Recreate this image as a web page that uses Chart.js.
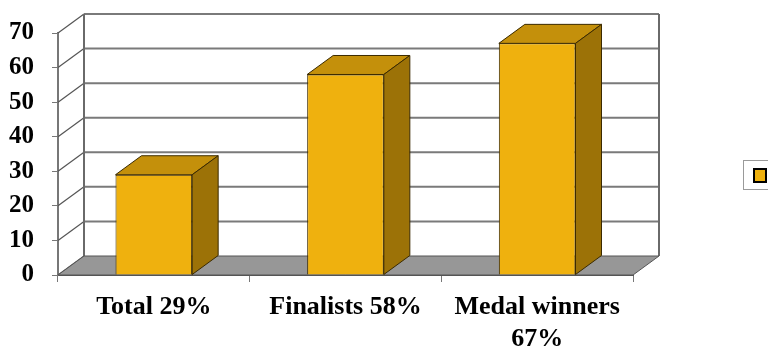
<!DOCTYPE html>
<html>
<head>
<meta charset="utf-8">
<script src="https://cdn.jsdelivr.net/npm/chart.js@4"></script>
<style>
  html, body { margin: 0; padding: 0; background: #fff; }
  #wrap { width: 768px; height: 346px; }
</style>
</head>
<body>
<div id="wrap"><canvas id="myChart" width="768" height="346"></canvas></div>
<script>
// chart data
var categories = [['Total 29%'], ['Finalists 58%'], ['Medal winners', '67%']];
var values = [29, 58, 67];
var yMin = 0;
var yMax = 70;
var yStep = 10;

// 3d depth of the walls and bars (px)
var depthX = 26;
var depthY = -19;

var frontColor = '#EFB10E';
var topColor = '#C4900B';
var sideColor = '#9C7207';
var edgeColor = '#3b2a00';

var fake3d = {
    id: 'fake3d',
    beforeDatasetsDraw: function (chart) {
        var c = chart.ctx, a = chart.chartArea, y = chart.scales.y;
        var L = a.left, R = a.right, B = a.bottom, T = a.top;
        c.save();
        // back wall
        c.fillStyle = '#fff';
        c.fillRect(L + depthX, T + depthY, R - L, B - T);
        // back wall grid lines + left wall diagonals
        for (var v = yMin; v <= yMax; v += yStep) {
            var py = y.getPixelForValue(v);
            c.strokeStyle = '#7a7a7a';
            c.lineWidth = 2;
            if (v > yMin) {
                c.beginPath();
                c.moveTo(L + depthX, py + depthY);
                c.lineTo(R + depthX, py + depthY);
                c.stroke();
            }
            c.lineWidth = 1.2;
            c.strokeStyle = '#555';
            c.beginPath();
            c.moveTo(L, py);
            c.lineTo(L + depthX, py + depthY);
            c.stroke();
        }
        // back wall edges
        c.strokeStyle = '#6a6a6a';
        c.lineWidth = 2;
        c.beginPath();
        c.moveTo(L + depthX, B + depthY);
        c.lineTo(L + depthX, T + depthY);
        c.moveTo(R + depthX, B + depthY);
        c.lineTo(R + depthX, T + depthY);
        c.stroke();
        // floor
        c.fillStyle = '#979797';
        c.strokeStyle = '#555';
        c.lineWidth = 1;
        c.beginPath();
        c.moveTo(L, B);
        c.lineTo(R, B);
        c.lineTo(R + depthX, B + depthY);
        c.lineTo(L + depthX, B + depthY);
        c.closePath();
        c.fill();
        c.stroke();
        c.restore();
    },
    afterDatasetsDraw: function (chart) {
        var c = chart.ctx;
        var meta = chart.getDatasetMeta(0);
        c.save();
        c.lineWidth = 1;
        c.strokeStyle = edgeColor;
        c.lineJoin = 'round';
        meta.data.forEach(function (bar) {
            var x0 = bar.x - bar.width / 2, x1 = bar.x + bar.width / 2;
            var top = bar.y, base = bar.base;
            // top face
            c.fillStyle = topColor;
            c.beginPath();
            c.moveTo(x0, top);
            c.lineTo(x0 + depthX, top + depthY);
            c.lineTo(x1 + depthX, top + depthY);
            c.lineTo(x1, top);
            c.closePath();
            c.fill();
            c.stroke();
            // right side
            c.fillStyle = sideColor;
            c.beginPath();
            c.moveTo(x1, top);
            c.lineTo(x1 + depthX, top + depthY);
            c.lineTo(x1 + depthX, base + depthY);
            c.lineTo(x1, base);
            c.closePath();
            c.fill();
            c.stroke();
        });
        c.restore();
    },
    afterDraw: function (chart) {
        // legend box on the right (text falls outside the picture)
        var c = chart.ctx;
        c.save();
        c.strokeStyle = '#9a9a9a';
        c.lineWidth = 1;
        c.strokeRect(743.5, 160.5, 40, 29);
        c.fillStyle = frontColor;
        c.fillRect(754, 169, 12, 13);
        c.strokeStyle = '#000';
        c.lineWidth = 2;
        c.strokeRect(754, 169, 12, 13);
        c.restore();
    }
};

var ctx = document.getElementById('myChart').getContext('2d');
var myChart = new Chart(ctx, {
    type: 'bar',
    data: {
        labels: categories,
        datasets: [{
            label: 'Series1',
            data: values,
            backgroundColor: frontColor,
            borderColor: edgeColor,
            borderWidth: 1,
            barPercentage: 0.4,
            categoryPercentage: 1
        }]
    },
    options: {
        responsive: false,
        animation: false,
        layout: { padding: { top: 33, right: 135, left: 0, bottom: 0 } },
        plugins: {
            legend: { display: false },
            tooltip: { enabled: false }
        },
        scales: {
            x: {
                afterFit: function (s) { s.height = 71; },
                grid: {
                    offset: true,
                    drawOnChartArea: false,
                    drawTicks: true,
                    tickLength: 7,
                    color: '#777'
                },
                border: { color: '#555', width: 1 },
                ticks: {
                    color: '#000',
                    padding: 10,
                    font: { family: 'Liberation Serif', size: 26, weight: 'bold', lineHeight: 1.2 }
                }
            },
            y: {
                min: yMin,
                max: yMax,
                afterFit: function (s) { s.width = 58; },
                grid: {
                    drawOnChartArea: false,
                    drawTicks: true,
                    tickLength: 6,
                    color: '#777'
                },
                border: { color: '#777', width: 2 },
                ticks: {
                    stepSize: yStep,
                    color: '#000',
                    padding: 18,
                    font: { family: 'Liberation Serif', size: 25, weight: 'bold' }
                }
            }
        }
    },
    plugins: [fake3d]
});
</script>
</body>
</html>
